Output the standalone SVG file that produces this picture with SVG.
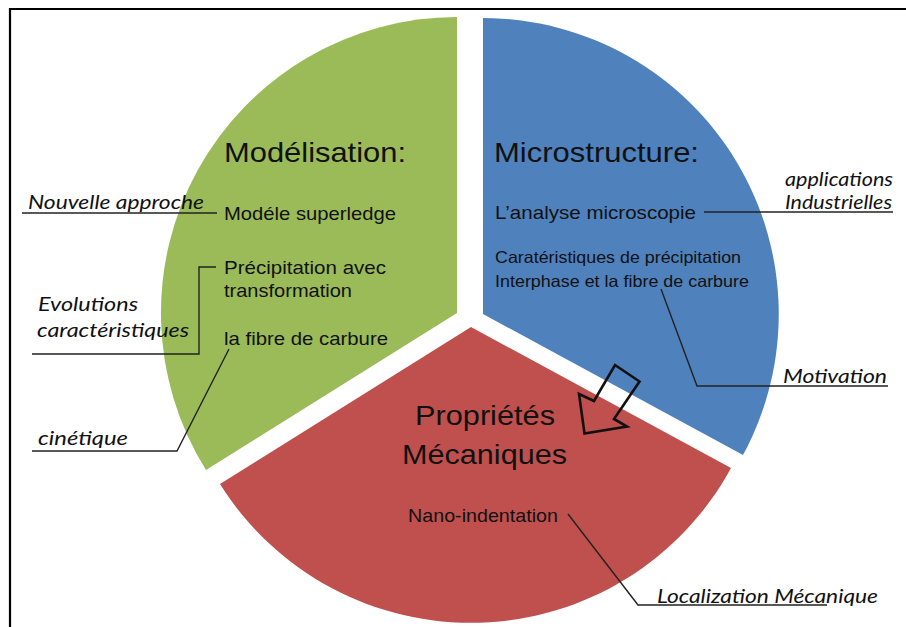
<svg xmlns="http://www.w3.org/2000/svg" width="906" height="627" viewBox="0 0 906 627">
<style>
.t{font-family:"Liberation Sans",Arial,sans-serif;fill:#111;}
.title{font-size:28px;}
.body{font-size:19px;}
.small{font-size:16.5px;}
.lab{font-family:Lato,"Open Sans","Liberation Sans",sans-serif;font-style:italic;font-size:19px;fill:#111;}
.ln{fill:none;stroke:#222;stroke-width:1.4;}
</style>
<rect x="0" y="0" width="906" height="627" fill="#ffffff"/>
<path d="M10,627 V9 H906" fill="none" stroke="#000" stroke-width="2.2"/>

<g id="modelisation">
<path d="M457,313 V17 A296,296 0 0 0 206,470 Z" fill="#9BBB59"/>
<text class="t title" x="224" y="162" textLength="182" lengthAdjust="spacingAndGlyphs">Modélisation:</text>
<text class="t body" x="224" y="220" textLength="172" lengthAdjust="spacingAndGlyphs">Modéle superledge</text>
<text class="t body" x="224" y="274" textLength="162" lengthAdjust="spacingAndGlyphs">Précipitation avec</text>
<text class="t body" x="224" y="297" textLength="128" lengthAdjust="spacingAndGlyphs">transformation</text>
<text class="t body" x="224" y="345" textLength="164" lengthAdjust="spacingAndGlyphs">la fibre de carbure</text>
</g>

<g id="microstructure">
<path d="M483,314 V18 A296,296 0 0 1 743,455 Z" fill="#4F81BD"/>
<text class="t title" x="494" y="162" textLength="205" lengthAdjust="spacingAndGlyphs">Microstructure:</text>
<text class="t body" x="495" y="219" textLength="201" lengthAdjust="spacingAndGlyphs">L’analyse microscopie</text>
<text class="t small" x="495" y="263" textLength="246" lengthAdjust="spacingAndGlyphs">Caratéristiques de précipitation</text>
<text class="t small" x="495" y="287" textLength="254" lengthAdjust="spacingAndGlyphs">Interphase et la fibre de carbure</text>
</g>

<g id="proprietes">
<path d="M471,327 L731,468 A296,296 0 0 1 220,484 Z" fill="#C0504D"/>
<text class="t title" x="415" y="425" textLength="140" lengthAdjust="spacingAndGlyphs">Propriétés</text>
<text class="t title" x="402" y="464" textLength="165" lengthAdjust="spacingAndGlyphs">Mécaniques</text>
<text class="t body" x="408" y="522" textLength="150" lengthAdjust="spacingAndGlyphs">Nano-indentation</text>
</g>

<g id="label-nouvelle">
<text class="lab" x="28" y="209" textLength="176" lengthAdjust="spacingAndGlyphs">Nouvelle approche</text>
</g>
<g id="label-evolutions">
<text class="lab" x="38" y="311" textLength="100" lengthAdjust="spacingAndGlyphs">Evolutions</text>
<text class="lab" x="37" y="337" textLength="152" lengthAdjust="spacingAndGlyphs">caractéristiques</text>
</g>
<g id="label-cinetique">
<text class="lab" x="38" y="445" textLength="90" lengthAdjust="spacingAndGlyphs">cinétique</text>
</g>
<g id="label-applications">
<text class="lab" x="785" y="186" textLength="108" lengthAdjust="spacingAndGlyphs">applications</text>
<text class="lab" x="785" y="209" textLength="107" lengthAdjust="spacingAndGlyphs">Industrielles</text>
</g>
<g id="label-motivation">
<text class="lab" x="783" y="383" textLength="104" lengthAdjust="spacingAndGlyphs">Motivation</text>
</g>
<g id="label-localization">
<text class="lab" x="657" y="603" textLength="221" lengthAdjust="spacingAndGlyphs">Localization Mécanique</text>
</g>

<g id="connectors">
<polyline class="ln" points="22,213 217,213"/>
<polyline class="ln" points="32,354 199,354 199,267 216,267"/>
<polyline class="ln" points="32,451 177,451 229,349"/>
<polyline class="ln" points="704,212 893,212"/>
<polyline class="ln" points="661,289 697,386 888,386"/>
<polyline class="ln" points="568,514 638,605 827,605"/>
<polygon points="615,365 639.5,381.5 614,419 627,426.5 584.5,433.5 579,394 594,401" fill="none" stroke="#111" stroke-width="2.6" stroke-linejoin="miter"/>
</g>
</svg>
